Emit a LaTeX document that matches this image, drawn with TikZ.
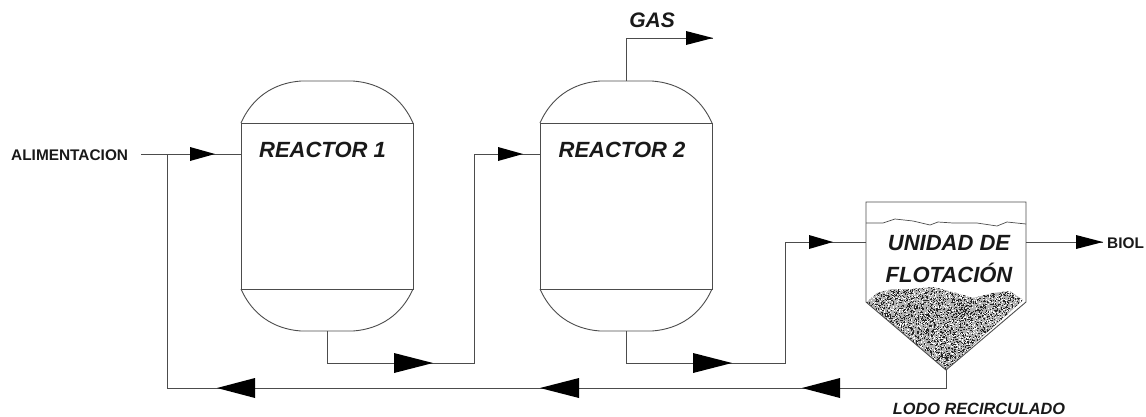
\documentclass[tikz,border=0pt]{standalone}
\usepackage{fontspec}
\setmainfont{Liberation Sans}
\newcommand{\flechatip}[4]{\fill[black] (#1,#3-#4) -- (#2,#3) -- (#1,#3+#4) -- cycle;}
\tikzset{
  linea/.style={draw=black!70,line width=0.9pt},
  cuerpo/.style={draw=black!70,line width=0.9pt,minimum width=172pt,minimum height=166pt,inner sep=0pt,outer sep=0pt},
  titulo/.style={font=\bfseries\itshape\fontsize{22}{26}\selectfont,inner sep=0pt,text=black!90},
  rotulo/.style={font=\bfseries\fontsize{15.4}{18}\selectfont,inner sep=0pt,text=black!90},
  rotuloit/.style={font=\bfseries\itshape,inner sep=0pt,text=black!90},
}
\begin{document}
\begin{tikzpicture}[x=1pt,y=-1pt]
\useasboundingbox (0,0) rectangle (1146,416);
% Reactors
\node[cuerpo] (r1) at (327,206) {};
\node[cuerpo] (r2) at (626,206) {};
\foreach \r in {r1,r2}{
  \begin{scope}[shift={(\r.north west)}]
  \draw[linea] (0,0) .. controls (11,-25) and (32,-40) .. (60,-42)
     -- (112,-42) .. controls (140,-40) and (161,-25) .. (172,0);
  \end{scope}
  \begin{scope}[shift={(\r.south west)}]
  \draw[linea] (0,0) .. controls (11,25) and (32,40) .. (60,42)
     -- (112,42) .. controls (140,40) and (161,25) .. (172,0);
  \end{scope}
}
\node[titulo] (t1) at (322.5,150) {REACTOR 1};
\node[titulo] (t2) at (622,150) {REACTOR 2};
% Flotation unit
\coordinate (uTL) at (866,202);
\coordinate (uTR) at (1026,202);
\coordinate (uBL) at (866,302);
\coordinate (uBR) at (1026,302);
\coordinate (uApex) at (946,370);
\begin{scope}
  \clip (867,302) -- (877,293) -- (892,289) -- (913,289) -- (933,287) -- (953,292) -- (973,298) -- (993,293) -- (1010,291) -- (1023,300) -- (946,370) -- cycle;
  \fill[black!30] (860,280) rectangle (1030,375);
  \pgfmathsetseed{4242}
  \foreach \i in {1,...,4200}{
    \pgfmathsetmacro{\px}{866+160*rnd}
    \pgfmathsetmacro{\py}{286+85*rnd}
    \fill[black!85] (\px,\py) rectangle +(1.1,1.1);
  }
  \foreach \i in {1,...,1800}{
    \pgfmathsetmacro{\px}{866+160*rnd}
    \pgfmathsetmacro{\py}{286+85*rnd}
    \fill[white] (\px,\py) rectangle +(1,1);
  }
\end{scope}
\draw[linea] (uBL) -- (uTL) -- (uTR) -- (uBR) -- (uApex) -- cycle;
\draw[black!70,line width=0.7pt] (866,223) -- (883,223) -- (895,219) -- (913,221) -- (930,225) -- (938,222) -- (953,223) -- (977,223) -- (997,226) -- (1007,222) -- (1026,224);
\node[titulo] (u1) at (949,243) {UNIDAD DE};
\node[titulo] (u2) at (949,273) {FLOTACIÓN};
% Labels
\node[rotulo,anchor=west] (alim) at (11,155) {ALIMENTACION};
\node[rotulo,anchor=west] (biol) at (1107,243) {BIOL};
\node[rotuloit,font=\bfseries\itshape\fontsize{21}{25}\selectfont] (gas) at (652,20) {GAS};
\node[rotuloit,font=\bfseries\itshape\fontsize{16.3}{20}\selectfont] (lodo) at (979,409) {LODO RECIRCULADO};
% Connector points
\coordinate (aS) at (141,154);
\coordinate (r1in) at (241,154);
\coordinate (jn) at (167,154);
\coordinate (r1out) at (327,331);
\coordinate (r2in) at (540,154);
\coordinate (r2top) at (626,81);
\coordinate (gasE) at (713,38);
\coordinate (r2out) at (626,331);
\coordinate (uIn) at (866,242);
\coordinate (uOut) at (1026,242);
\coordinate (bE) at (1103,242);
% Connectors
\draw[linea] (aS) -- (r1in);
\draw[linea] (r1out) |- (474,363) |- (r2in);
\draw[linea] (r2top) |- (gasE);
\draw[linea] (r2out) |- (785,363) |- (uIn);
\draw[linea] (uOut) -- (bE);
\draw[linea] (uApex) |- (167,388) -- (jn);
% Arrow heads
\flechatip{190}{215}{154}{7}
\flechatip{498}{523}{154}{7}
\flechatip{686}{713}{38}{7}
\flechatip{809}{833}{242}{7}
\flechatip{1076}{1103}{242}{7}
\flechatip{394}{433}{363}{10}
\flechatip{693}{732}{363}{10}
\flechatip{255}{217}{388}{10}
\flechatip{579}{540}{388}{10}
\flechatip{840}{802}{388}{10}
\end{tikzpicture}
\end{document}
